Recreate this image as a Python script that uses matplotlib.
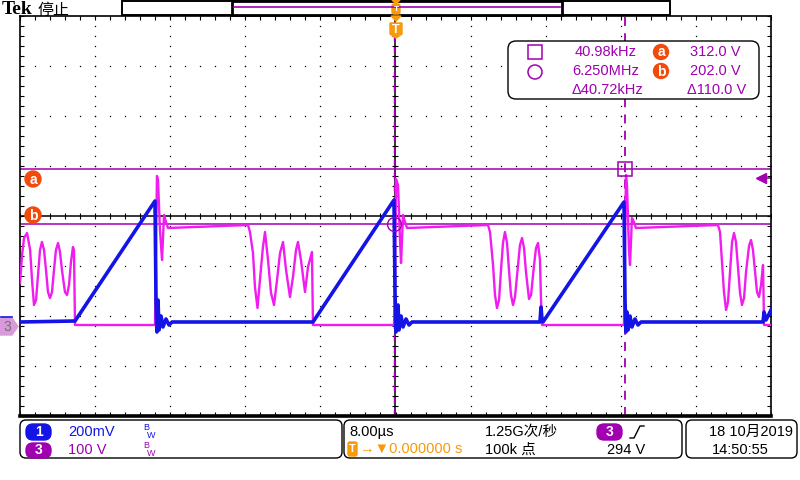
import numpy as np
import matplotlib
matplotlib.use('Agg')
import matplotlib.pyplot as plt
from matplotlib.patches import FancyBboxPatch, Rectangle, Circle, Polygon

plt.rcParams['font.family'] = ['Liberation Sans', 'DejaVu Sans', 'Noto Sans CJK SC']

# ========== 波形数据 (读自截图) ==========
# CH3 (100 V/div), time in µs, volts
ch3_t = [-40.0, -39.78, -39.57, -39.25, -38.92, -38.72, -38.51, -38.29, -38.08, -37.87, -37.66, -37.44,
         -37.23, -37.02, -36.81, -36.59, -36.38, -36.17, -35.95, -35.74, -35.53, -35.21, -34.99, -34.78,
         -34.57, -34.36, -34.25, -34.14,
         -25.62, -25.41, -25.3, -25.09, -24.87, -24.66, -24.45, -24.24,
         -15.71, -15.5, -15.18, -14.97, -14.70, -14.44, -14.12, -13.90, -13.58, -13.26, -12.94, -12.62,
         -12.30, -11.98, -11.66, -11.24, -10.92, -10.60, -10.39, -10.07, -9.64, -9.32, -8.90, -8.79,
         -0.16, -0.05, 0.05, 0.27, 0.48, 0.59, 0.8, 1.01, 1.23,
         9.85, 10.07, 10.39, 10.60, 10.81, 11.03, 11.24, 11.45, 11.66, 11.88, 12.09, 12.30, 12.52, 12.73,
         13.05, 13.26, 13.48, 13.69, 13.90, 14.22, 14.44, 14.76, 14.97, 15.18, 15.39, 15.50, 15.61,
         24.34, 24.55, 24.66, 24.87, 24.98, 25.19, 25.4, 25.61,
         34.35, 34.57, 34.78, 34.99, 35.21, 35.42, 35.63, 35.85, 36.06, 36.27, 36.49, 36.70, 36.91, 37.13,
         37.34, 37.66, 37.87, 38.08, 38.30, 38.51, 38.72, 38.94, 39.15, 39.26, 40.0]
ch3_v = [84, 140, 174, 184, 150, 90, 40, 50, 100, 150, 166, 150,
         110, 66, 54, 66, 110, 150, 164, 146, 110, 66, 60, 80,
         126, 156, 150, 0,
         0, 298, 290, 190, 130, 220, 206, 194,
         200, 186, 144, 76, 34, 90, 156, 186, 130, 64, 40, 90,
         144, 166, 110, 56, 96, 150, 166, 130, 66, 116, 146, 0,
         0, 70, 292, 280, 170, 124, 220, 206, 194,
         200, 186, 120, 60, 34, 50, 110, 164, 186, 164, 110, 60, 40, 56,
         120, 160, 174, 154, 106, 52, 60, 120, 154, 164, 130, 50, 0,
         0, 300, 280, 150, 120, 214, 206, 194,
         200, 186, 126, 66, 30, 46, 106, 166, 184, 166, 114, 64, 40, 54,
         106, 158, 170, 150, 106, 66, 56, 80, 120, 0, 0]

# CH1 (200 mV/div)
ch1_t = [-40.0, -34.14, -25.62, -25.51, -25.41, -25.3, -25.19, -24.98, -24.77, -24.45, -24.13, -23.8,
         -8.79, -0.16, -0.05, 0.05, 0.27, 0.37, 0.59, 0.8, 1.12, 1.44, 1.76,
         15.39, 15.5, 15.61, 15.71, 24.34, 24.45, 24.55, 24.66, 24.77, 24.98, 25.19, 25.51, 25.83, 26.15,
         39.15, 39.26, 39.47, 40.0]
ch1_v = [0.004, 0.008, 0.488, 0.092, -0.036, 0.092, -0.028, 0.028, -0.016, 0.016, -0.008, 0.004,
         0.004, 0.492, 0.12, -0.036, 0.072, -0.028, 0.028, -0.016, 0.016, -0.008, 0.004,
         0.004, 0.064, 0.012, 0.004, 0.484, 0.092, -0.036, 0.044, -0.028, 0.028, -0.016, 0.016, -0.008, 0.004,
         0.004, 0.044, 0.012, 0.052]

ch1_scale = 0.2      # V/div
ch3_scale = 100.0    # V/div
ch1_pos = -2.14      # div
ch3_pos = -2.18
time_scale = 8.0     # µs/div

cursor_a = 312.0
cursor_b = 202.0
cursor_t1 = 24.40    # µs (square)
cursor_t2 = -0.16    # µs (circle)
trig_level = 294.0

BLUE = '#1414e6'
MAG = '#f01cf0'
PURP = '#a000b0'
ORANGE = '#f79a0c'
RED = '#f24a0a'

fig = plt.figure(figsize=(8, 4.8), dpi=100)
ax = fig.add_axes([20 / 800, 64 / 480, 751 / 800, 400 / 480])
ax.set_xlim(-5, 5)
ax.set_ylim(-4, 4)

# ========== 网格 ==========
for i in range(-4, 5):
    if i == 0:
        continue
    ax.plot(np.full(41, i), np.arange(-4, 4.01, 0.2), ls='none', marker='s', ms=0.9, color='k', mew=0)
for j in range(-3, 4):
    if j == 0:
        continue
    ax.plot(np.arange(-5, 5.01, 0.2), np.full(51, j), ls='none', marker='s', ms=0.9, color='k', mew=0)
ax.axhline(0, color='k', lw=1.1, zorder=1)
ax.axvline(0, color='k', lw=1.1, zorder=1)
ax.plot(np.arange(-5, 5.01, 0.2), np.zeros(51), ls='none', marker='|', ms=4, color='k', mew=0.8)
ax.plot(np.zeros(41), np.arange(-4, 4.01, 0.2), ls='none', marker='_', ms=4, color='k', mew=0.8)

ax.set_xticks(np.arange(-5, 5.01, 0.2), minor=True)
ax.set_yticks(np.arange(-4, 4.01, 0.2), minor=True)
ax.set_xticks([])
ax.set_yticks([])
ax.tick_params(which='minor', direction='in', length=3, width=0.8,
               top=True, right=True, labelbottom=False, labelleft=False)
for s in ax.spines.values():
    s.set_linewidth(1.2)
ax.spines['bottom'].set_linewidth(2.6)

# ========== 光标 ==========
ya = cursor_a / ch3_scale + ch3_pos
yb = cursor_b / ch3_scale + ch3_pos
ax.axhline(ya, color=PURP, lw=1.1, zorder=2)
ax.axhline(yb, color=PURP, lw=1.1, zorder=2)
ax.axvline(cursor_t1 / time_scale, color=PURP, lw=1.3, ls=(0, (5, 4)), zorder=2)
ax.axvline(cursor_t2 / time_scale, color=PURP, lw=1.0, ls=(0, (5, 4)), zorder=2)

# ========== 波形 ==========
ax.plot(np.array(ch3_t) / time_scale, np.array(ch3_v) / ch3_scale + ch3_pos, color=MAG, lw=1.7, zorder=3)
ax.plot(np.array(ch1_t) / time_scale, np.array(ch1_v) / ch1_scale + ch1_pos, color=BLUE, lw=2.6, zorder=4)

ax.plot(cursor_t1 / time_scale, ya, marker='s', ms=10, mfc='none', mec=PURP, mew=1.1, zorder=5)
ax.plot(cursor_t2 / time_scale, yb, marker='o', ms=10, mfc='none', mec=PURP, mew=1.0, zorder=5)
ax.plot(4.87, trig_level / ch3_scale + ch3_pos, marker='<', ms=7, color=PURP, clip_on=False, zorder=5)
ax.plot([4.87, 5.0], [trig_level / ch3_scale + ch3_pos] * 2, color=PURP, lw=1.2, clip_on=False)

# ========== 叠加层 (像素坐标) ==========
ov = fig.add_axes([0, 0, 1, 1])
ov.set_xlim(0, 800)
ov.set_ylim(480, 0)
ov.axis('off')


def rbox(x0, y0, x1, y1, fc='white', ec='k', r=6, lw=1.0):
    ov.add_patch(FancyBboxPatch((x0, y0), x1 - x0, y1 - y0, boxstyle=f'round,pad=0,rounding_size={r}',
                                fc=fc, ec=ec, lw=lw))


def badge(x, y, ch, color, r=8):
    ov.add_patch(Circle((x, y), r, color=color))
    ov.text(x, y + 0.5, ch, color='white', fontsize=10, fontweight='bold', ha='center', va='center')


# 顶部
ov.text(2, 10, 'Tek', fontsize=14, fontweight='bold', family='Liberation Serif', va='center')
ov.text(37, 10, '停止', fontsize=11.5, va='center', family=['Noto Sans CJK SC'])
ov.add_patch(Rectangle((122, 0.5), 548, 14.5, fc='white', ec='k', lw=1.4))
ov.add_patch(Rectangle((232, 1), 330, 13.5, fc='white', ec='k', lw=2.0))
ov.plot([234, 560], [7, 7], color=PURP, lw=1.2)
ov.add_patch(Polygon([(392, 0), (400, 0), (396, 4)], color=ORANGE))
rbox(392, 4, 400, 14, fc=ORANGE, ec=ORANGE, r=2)
ov.text(396, 9.5, 'T', color='white', fontsize=6, fontweight='bold', ha='center', va='center')
ov.add_patch(Polygon([(391, 16), (401, 16), (396, 21)], color=ORANGE))
ov.add_patch(Polygon([(390, 23), (402, 23), (402, 34), (396, 38), (390, 34)], color=ORANGE))
ov.text(396, 30, 'T', color='white', fontsize=9, fontweight='bold', ha='center', va='center')

# 光标标签
badge(33, 179, 'a', RED)
badge(33, 215, 'b', RED)

# 通道3 标记
ov.add_patch(Polygon([(0, 318), (12, 318), (18, 326.5), (12, 335), (0, 335)], color='#d99ad9'))
ov.text(7, 327, '3', color='#707070', fontsize=10, ha='center', va='center')
ov.plot([1, 12], [317, 317], color=BLUE, lw=1.2)

# 测量框
rbox(508, 41, 759, 99, r=8)
ov.add_patch(Rectangle((528, 45), 14, 14, fc='none', ec=PURP, lw=1.1))
ov.add_patch(Circle((535, 72), 7, fc='none', ec=PURP, lw=1.1))
badge(661, 52, 'a', RED, r=7.5)
badge(661, 71, 'b', RED, r=7.5)
mfs = 10.5
ov.text(637, 52, '40.98kHz', color=PURP, fontsize=mfs, ha='right', va='center')
ov.text(639, 71, '6.250MHz', color=PURP, fontsize=mfs, ha='right', va='center')
ov.text(643, 90, 'Δ40.72kHz', color=PURP, fontsize=mfs, ha='right', va='center')
ov.text(741, 52, '312.0 V', color=PURP, fontsize=mfs, ha='right', va='center')
ov.text(741, 71, '202.0 V', color=PURP, fontsize=mfs, ha='right', va='center')
ov.text(746, 90, 'Δ110.0 V', color=PURP, fontsize=mfs, ha='right', va='center')

# 底部状态栏
sfs = 10.5
rbox(20, 420, 342, 458)
rbox(344, 420, 682, 458)
rbox(686, 420, 797, 458)

rbox(26, 424, 51, 440, fc=BLUE, ec=BLUE, r=7)
ov.text(38.5, 432.5, '1', color='white', fontsize=10, fontweight='bold', ha='center', va='center')
ov.text(68, 432, '200mV', color=BLUE, fontsize=sfs, va='center')
ov.text(143, 428, 'B', color=BLUE, fontsize=6.5, va='center')
ov.text(147, 436, 'W', color=BLUE, fontsize=6.5, va='center')

rbox(26, 443, 51, 458, fc=PURP, ec=PURP, r=7)
ov.text(38.5, 450.5, '3', color='white', fontsize=10, fontweight='bold', ha='center', va='center')
ov.text(68, 450, '100 V', color=PURP, fontsize=sfs, va='center')
ov.text(143, 446, 'B', color=PURP, fontsize=6.5, va='center')
ov.text(147, 454, 'W', color=PURP, fontsize=6.5, va='center')

ov.text(349, 432, '8.00µs', color='k', fontsize=sfs, va='center')
rbox(348, 442, 357, 456, fc=ORANGE, ec=ORANGE, r=2)
ov.text(352.5, 449.5, 'T', color='white', fontsize=8, fontweight='bold', ha='center', va='center')
ov.text(360, 449, '→▼0.000000 s', color=ORANGE, fontsize=sfs, va='center')
ov.text(485, 432, '1.25G次/秒', color='k', fontsize=sfs, va='center')
ov.text(485, 450, '100k 点', color='k', fontsize=sfs, va='center')

rbox(597, 424, 622, 440, fc=PURP, ec=PURP, r=7)
ov.text(609.5, 432.5, '3', color='white', fontsize=10, fontweight='bold', ha='center', va='center')
ov.plot([630, 634, 640, 644], [438, 438, 426, 426], color='k', lw=1.0)
ov.text(645, 450, '294 V', color='k', fontsize=sfs, ha='right', va='center')

ov.text(793, 432, '18 10月2019', color='k', fontsize=sfs, ha='right', va='center')
ov.text(712, 450, '14:50:55', color='k', fontsize=sfs, va='center')

plt.savefig('out.png', dpi=100)
